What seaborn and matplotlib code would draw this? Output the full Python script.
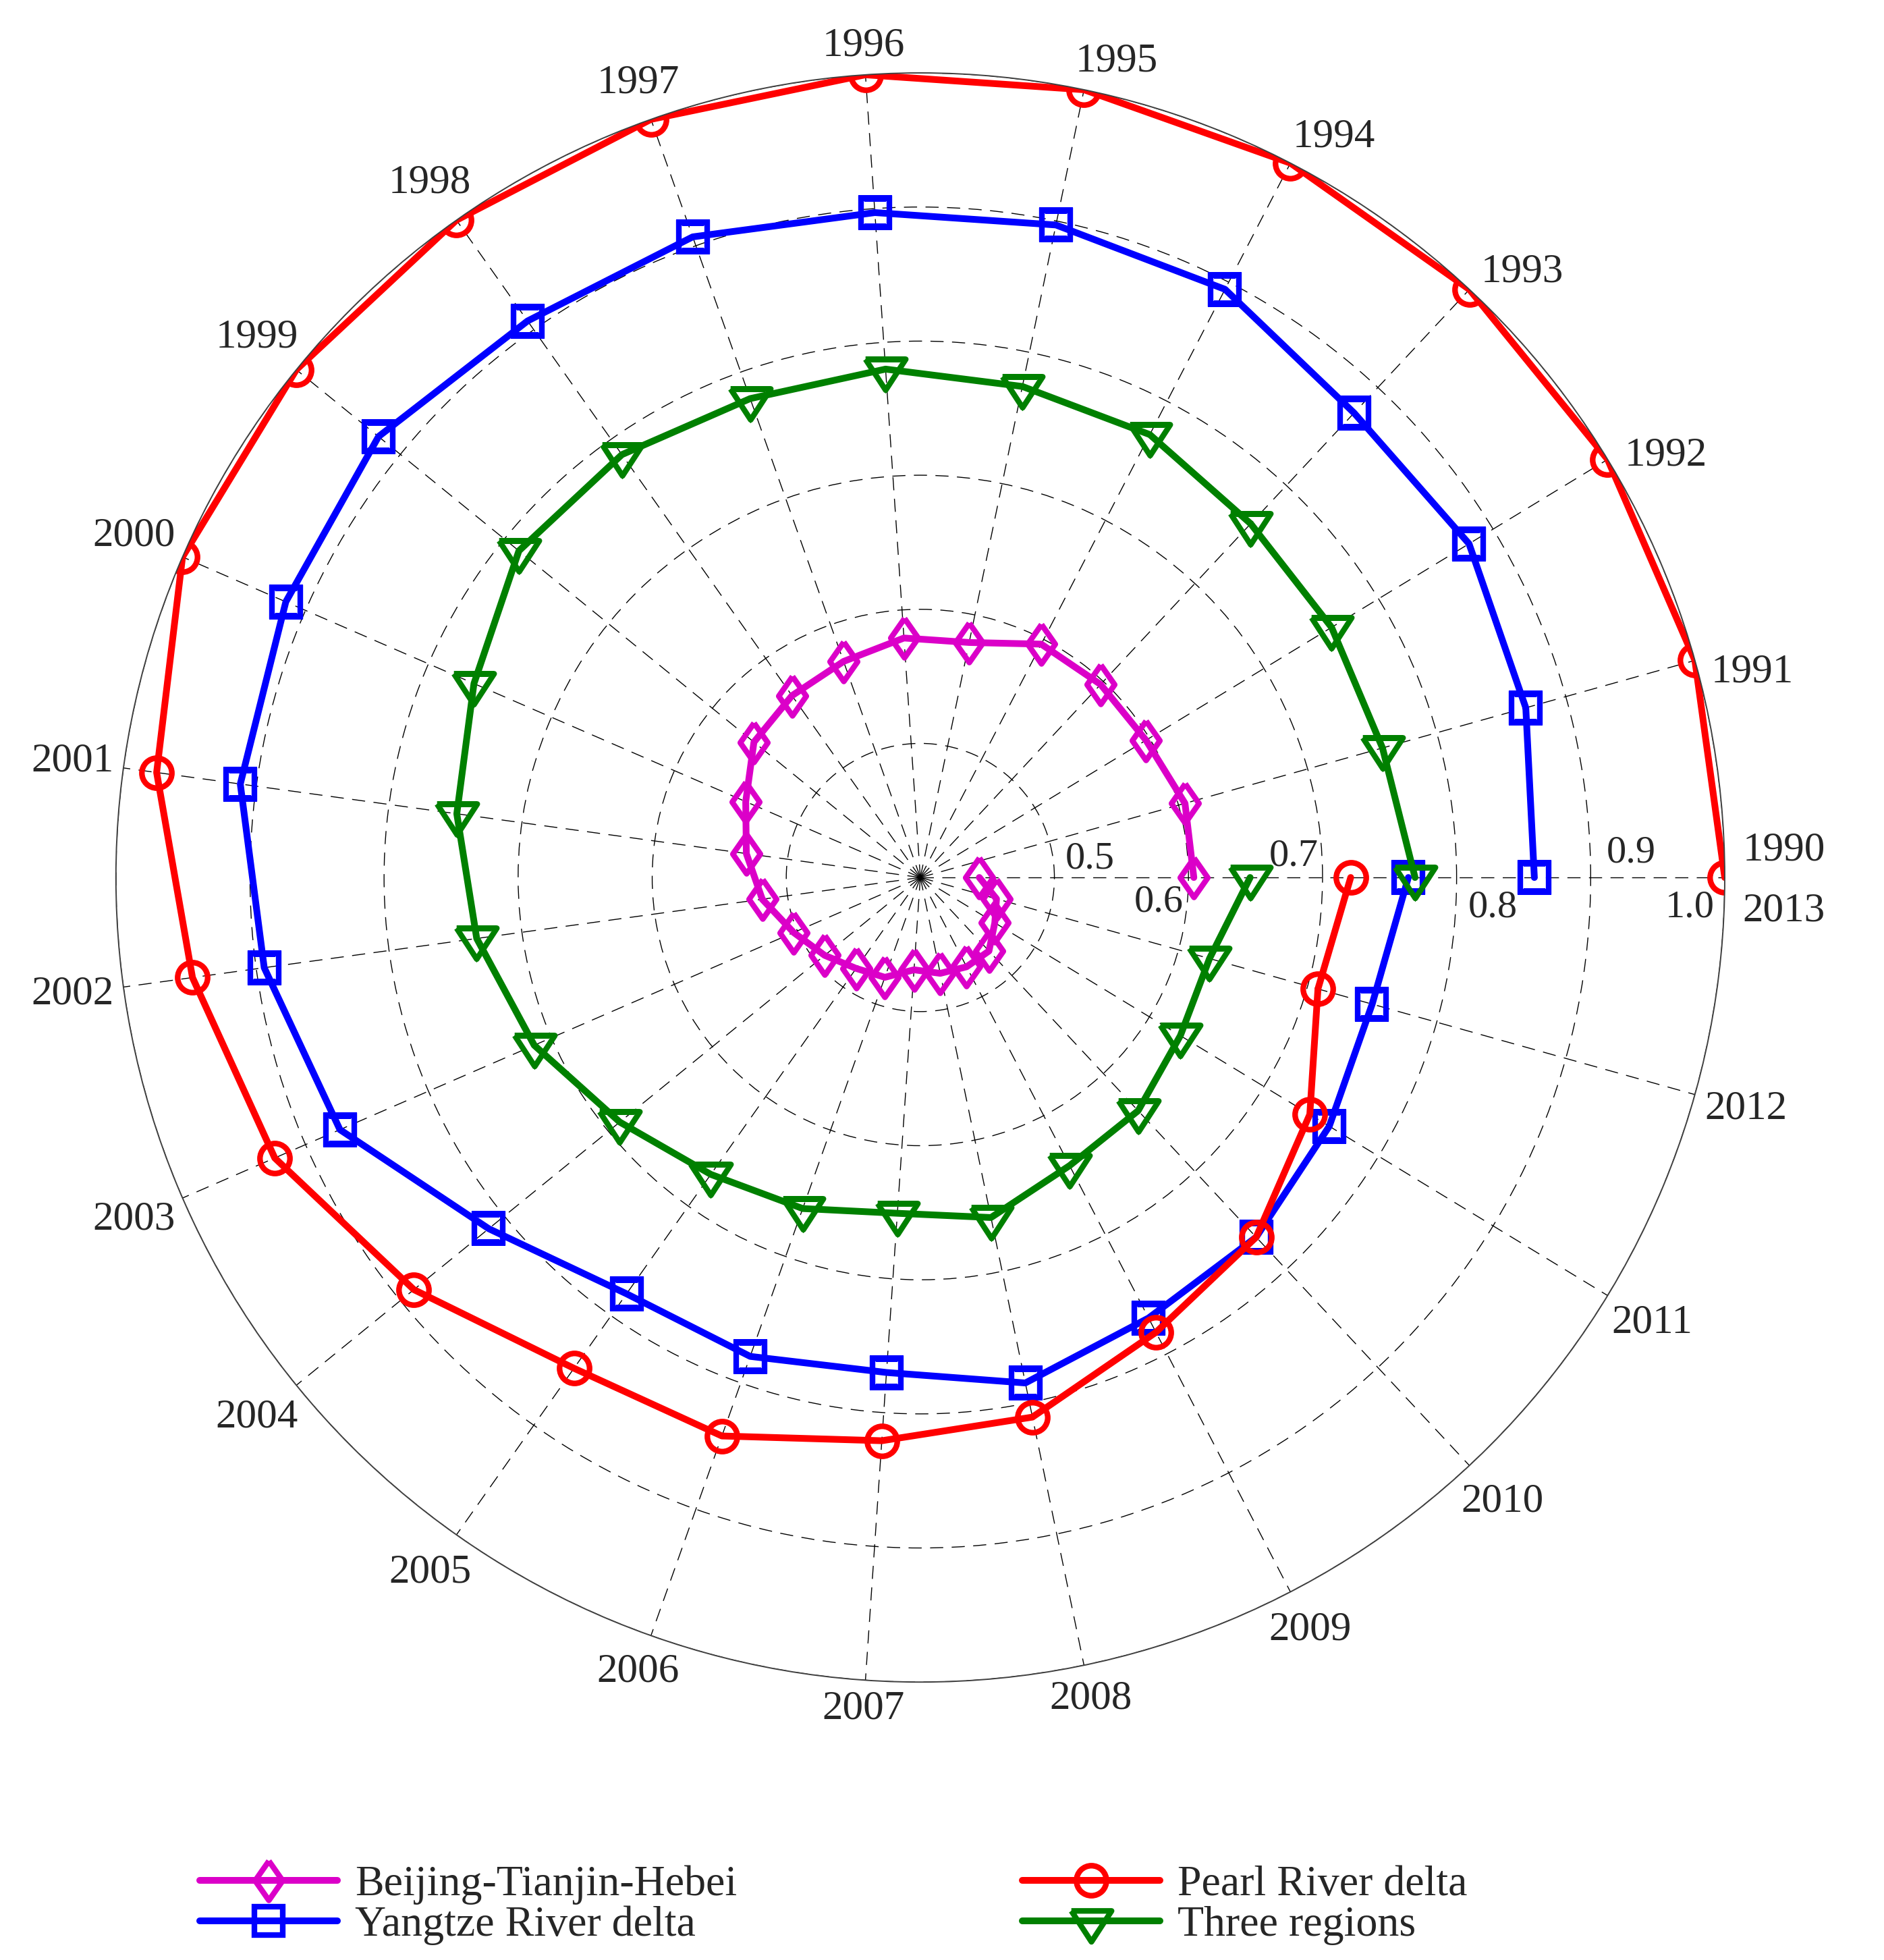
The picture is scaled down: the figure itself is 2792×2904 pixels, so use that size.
import numpy as np
import seaborn as sns
import matplotlib.pyplot as plt

sns.set_style("white")
plt.rcParams['font.family'] = ['Liberation Serif', 'DejaVu Serif']

# ---------------- data ----------------
years = list(range(1990, 2014))

bth = [0.604, 0.605, 0.597, 0.597, 0.596, 0.579, 0.579, 0.571, 0.566, 0.560,
       0.542, 0.531, 0.519, 0.503, 0.492, 0.483, 0.479, 0.469, 0.473, 0.475,
       0.475, 0.465, 0.459, 0.444]
yangtze = [0.858, 0.869, 0.879, 0.874, 0.894, 0.897, 0.897, 0.907, 0.908, 0.921,
           0.916, 0.912, 0.894, 0.872, 0.815, 0.780, 0.779, 0.770, 0.785, 0.770,
           0.767, 0.757, 0.750, 0.764]
pearl = [1.0, 1.0, 1.0, 1.0, 1.0, 1.0, 1.0, 1.0, 1.0, 1.0,
         1.0, 0.975, 0.948, 0.925, 0.887, 0.848, 0.842, 0.821, 0.811, 0.782,
         0.767, 0.740, 0.708, 0.721]
three = [0.769, 0.758, 0.759, 0.761, 0.772, 0.774, 0.780, 0.779, 0.786, 0.786,
         0.763, 0.749, 0.734, 0.714, 0.689, 0.671, 0.662, 0.651, 0.659, 0.642,
         0.638, 0.627, 0.624, 0.646]

ring_values = [0.5, 0.6, 0.7, 0.8, 0.9, 1.0]
ring_labels = ["0.5", "0.6", "0.7", "0.8", "0.9", "1.0"]

# one full turn for 1990..2013 (2013 lands back on the 1990 spoke)
theta = np.deg2rad(np.arange(len(years)) * 360.0 / (len(years) - 1))

# hollow markers like the original
diamond = [(0, 1), (0.70, 0), (0, -1), (-0.70, 0), (0, 1)]
tri_down = [(-28, 14.3), (28, 14.3), (0, -28.7), (-28, 14.3)]

series = [
    ("Beijing-Tianjin-Hebei", bth, "#DB00C8", diamond, 21),
    ("Yangtze River delta", yangtze, "#0000FF", "s", 15),
    ("Pearl River delta", pearl, "#FF0000", "o", 16),
    ("Three regions", three, "#008000", tri_down, 22),
]

fig = plt.figure(figsize=(13.96, 14.52), dpi=200)
ax = fig.add_axes([0.0615, 0.1418, 0.854, 0.821], projection="polar")

ax.set_theta_zero_location("E")
ax.set_theta_direction(1)
ax.set_ylim(0.4, 1.0)

handles = []
for name, vals, col, mk, ms in series:
    sns.lineplot(x=theta, y=vals, ax=ax, color=col, lw=3.6, marker=mk, markersize=ms,
                 markerfacecolor="none", markeredgecolor=col, markeredgewidth=3.0,
                 sort=False, estimator=None, errorbar=None, legend=False, label=name)
    handles.append(ax.get_lines()[-1])

# grid: dashed spokes and rings, solid outer circle
ax.set_xticks(theta[:-1])
ax.set_xticklabels([])
ax.set_yticks(ring_values)
ax.set_yticklabels([])
ax.grid(True, color="k", lw=0.5, ls=(0, (14, 9)))
ax.spines["polar"].set_linewidth(0.7)
ax.spines["polar"].set_color("0.25")
ax.set_xlabel("")
ax.set_ylabel("")
ax.tick_params(length=0)

# year labels around the outside: nearest text edge sits just outside the circle
R_px = 1192.0
for i, yr in enumerate(years):
    ang = theta[i]
    if yr == 1990:
        ang, rpx = np.deg2rad(1.8), 1280
    elif yr == 2013:
        ang, rpx = np.deg2rad(-2.2), 1280
    else:
        if 1991 <= yr <= 1995:
            ang = ang - np.deg2rad(1.8)
        rpx = 1208 + abs(np.cos(ang)) * 58 + abs(np.sin(ang)) * 23
    r = 0.4 + rpx / R_px * 0.6
    ax.text(ang, r, str(yr), ha="center", va="center", fontsize=22, clip_on=False)

# ring value labels along the 1990 spoke, alternating above/below
offsets = [(19, 10), (-16, -13), (-15.5, 11.5), (19.5, -16), (21.6, 13.3), (-18.4, -16)]
for v, lab, off in zip(ring_values, ring_labels, offsets):
    ax.annotate(lab, xy=(0, v), xytext=off, textcoords="offset points",
                ha="center", va="center", fontsize=21, annotation_clip=False)

# legend in two columns below the plot
leg_kw = dict(frameon=False, fontsize=23, handlelength=3.2, handletextpad=0.4,
              labelspacing=0.02, borderpad=0, borderaxespad=0, loc="center left")
fig.legend(handles=[handles[0], handles[1]], labels=[series[0][0], series[1][0]],
           bbox_to_anchor=(0.106, 0.028), **leg_kw)
fig.legend(handles=[handles[2], handles[3]], labels=[series[2][0], series[3][0]],
           bbox_to_anchor=(0.5426, 0.028), **leg_kw)

fig.savefig("out.png", dpi=200, facecolor="white")
